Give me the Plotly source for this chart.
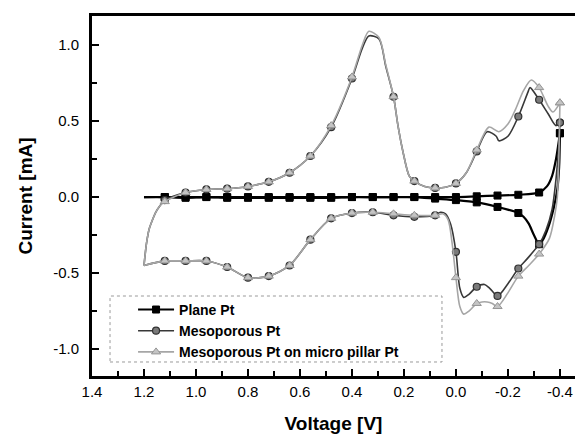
import plotly.graph_objects as go

# ---------------- data (Voltage [V], Current [mA]) ----------------
# Plane Pt
plane_fwd_v = [1.20, 1.12, 1.04, 0.96, 0.88, 0.80, 0.72, 0.64, 0.56, 0.48, 0.40, 0.32, 0.24,
               0.16, 0.08, 0.00, -0.08, -0.16, -0.24, -0.32, -0.35, -0.37, -0.385, -0.40]
plane_fwd_i = [0.00, 0.00, -0.005, 0.00, -0.005, -0.005, -0.005, -0.005, -0.005, -0.005, 0.00, 0.00, 0.00,
               0.00, 0.00, 0.00, 0.005, 0.01, 0.015, 0.03, 0.07, 0.14, 0.25, 0.42]
plane_rev_v = [-0.40, -0.397, -0.39, -0.375, -0.355, -0.335, -0.32, -0.30, -0.28, -0.26, -0.24,
               -0.16, -0.08, 0.00, 0.08, 0.16, 0.24, 0.32, 0.40, 0.48, 0.56, 0.64, 0.72, 0.80,
               0.88, 0.96, 1.04, 1.12, 1.20]
plane_rev_i = [0.42, 0.20, 0.05, -0.08, -0.20, -0.28, -0.31, -0.25, -0.175, -0.13, -0.105,
               -0.065, -0.035, -0.02, -0.01, 0.00, 0.00, 0.00, 0.00, 0.00, 0.00, 0.00, 0.00, 0.00,
               0.00, 0.00, 0.00, 0.00, 0.00]

# Mesoporous Pt
meso_fwd_v = [1.20, 1.19, 1.18, 1.165, 1.155, 1.14, 1.12, 1.04, 0.96, 0.88, 0.80, 0.72, 0.64, 0.56,
              0.48, 0.40, 0.36, 0.335, 0.296, 0.27, 0.24, 0.223, 0.204, 0.18, 0.16, 0.12, 0.08,
              0.04, 0.00, -0.04, -0.08, -0.12, -0.155, -0.165, -0.20, -0.24, -0.277, -0.285,
              -0.32, -0.354, -0.385, -0.40]
meso_fwd_i = [-0.45, -0.30, -0.21, -0.14, -0.10, -0.06, -0.02, 0.03, 0.05, 0.055, 0.07, 0.10, 0.16, 0.27,
              0.46, 0.78, 0.98, 1.06, 1.04, 0.86, 0.66, 0.47, 0.30, 0.14, 0.105, 0.07, 0.06,
              0.065, 0.09, 0.16, 0.30, 0.43, 0.40, 0.37, 0.40, 0.53, 0.69, 0.72,
              0.64, 0.55, 0.47, 0.49]
meso_rev_v = [-0.40, -0.395, -0.385, -0.37, -0.346, -0.32, -0.277, -0.24, -0.20, -0.16, -0.13,
              -0.11, -0.08, -0.05, -0.03, -0.015, 0.00, 0.02, 0.04, 0.06, 0.08, 0.16, 0.24, 0.32,
              0.40, 0.48, 0.56, 0.64, 0.72, 0.80, 0.88, 0.96, 1.04, 1.12, 1.20]
meso_rev_i = [0.49, 0.32, 0.12, -0.08, -0.22, -0.31, -0.40, -0.47, -0.57, -0.65, -0.60,
              -0.575, -0.59, -0.64, -0.66, -0.60, -0.36, -0.18, -0.11, -0.10, -0.12, -0.13, -0.12, -0.10,
              -0.105, -0.14, -0.28, -0.45, -0.52, -0.53, -0.46, -0.42, -0.42, -0.42, -0.45]

# Mesoporous Pt on micro pillar Pt
pillar_fwd_v = [1.20, 1.19, 1.18, 1.165, 1.155, 1.14, 1.12, 1.04, 0.96, 0.88, 0.80, 0.72, 0.64, 0.56,
                0.48, 0.40, 0.36, 0.335, 0.296, 0.27, 0.24, 0.223, 0.204, 0.18, 0.16, 0.12, 0.08,
                0.04, 0.00, -0.04, -0.08, -0.127, -0.165, -0.20, -0.23, -0.26, -0.29, -0.32,
                -0.354, -0.373, -0.40]
pillar_fwd_i = [-0.45, -0.30, -0.21, -0.14, -0.10, -0.06, -0.03, 0.03, 0.05, 0.055, 0.07, 0.10, 0.16, 0.27,
                0.47, 0.79, 1.00, 1.09, 1.05, 0.87, 0.66, 0.47, 0.30, 0.14, 0.105, 0.07, 0.06,
                0.065, 0.09, 0.16, 0.31, 0.46, 0.43, 0.48, 0.58, 0.70, 0.77, 0.72,
                0.60, 0.56, 0.62]
pillar_rev_v = [-0.40, -0.395, -0.39, -0.38, -0.36, -0.32, -0.28, -0.24, -0.20, -0.16, -0.14,
                -0.12, -0.10, -0.08, -0.05, -0.03, -0.015, 0.00, 0.015, 0.03, 0.05, 0.08, 0.16,
                0.24, 0.32, 0.40, 0.48, 0.56, 0.64, 0.72, 0.80, 0.88, 0.96, 1.04, 1.12, 1.20]
pillar_rev_i = [0.62, 0.20, 0.00, -0.12, -0.27, -0.375, -0.45, -0.52, -0.63, -0.72, -0.70,
                -0.69, -0.69, -0.70, -0.75, -0.77, -0.72, -0.53, -0.30, -0.15, -0.11, -0.12, -0.12,
                -0.11, -0.10, -0.105, -0.14, -0.28, -0.45, -0.52, -0.53, -0.46, -0.42, -0.42, -0.42, -0.45]

series_names = ["Plane Pt", "Mesoporous Pt", "Mesoporous Pt on micro pillar Pt"]

x_tick_vals = [1.4, 1.2, 1.0, 0.8, 0.6, 0.4, 0.2, 0.0, -0.2, -0.4]
x_tick_text = ["1.4", "1.2", "1.0", "0.8", "0.6", "0.4", "0.2", "0.0", "-0.2", "-0.4"]
y_tick_vals = [-1.0, -0.5, 0.0, 0.5, 1.0]
y_tick_text = ["-1.0", "-0.5", "0.0", "0.5", "1.0"]

marker_step = 0.08   # markers every 0.08 V from 1.12 V downward
# ------------------------------------------------------------------


def on_grid(v):
    k = (1.20 - v) / marker_step
    return abs(k - round(k)) < 1e-6 and round(k) >= 1


def marker_points(vs, cs):
    xs, ys = [], []
    for v, c in zip(vs, cs):
        if on_grid(v):
            xs.append(v)
            ys.append(c)
    return xs, ys


styles = [
    dict(line=dict(color="#000000", width=2.2),
         marker=dict(symbol="square", size=7, color="#000000", line=dict(color="#000000", width=1))),
    dict(line=dict(color="#383838", width=1.6),
         marker=dict(symbol="circle", size=7, color="#7a7a7a", line=dict(color="#303030", width=1.2))),
    dict(line=dict(color="#a6a6a6", width=1.6),
         marker=dict(symbol="triangle-up", size=8, color="#c4c4c4", line=dict(color="#969696", width=1))),
]

data = [
    (plane_fwd_v, plane_fwd_i, plane_rev_v, plane_rev_i),
    (meso_fwd_v, meso_fwd_i, meso_rev_v, meso_rev_i),
    (pillar_fwd_v, pillar_fwd_i, pillar_rev_v, pillar_rev_i),
]

fig = go.Figure()
for name, st, (fv, fi, rv, ri) in zip(series_names, styles, data):
    for vs, cs in ((fv, fi), (rv, ri)):
        fig.add_trace(go.Scatter(x=vs, y=cs, mode="lines", line=dict(shape="spline", smoothing=0.8, **st["line"]),
                                 showlegend=False, hoverinfo="skip"))
        mx, my = marker_points(vs, cs)
        fig.add_trace(go.Scatter(x=mx, y=my, mode="markers", marker=st["marker"], showlegend=False))
    fig.add_trace(go.Scatter(x=[None], y=[None], mode="lines+markers", name="<b>" + name + "</b>",
                             line=st["line"], marker=st["marker"], showlegend=True))

axis_font = dict(family="Liberation Sans, Arial, sans-serif", size=15, color="#000000")
title_font = dict(family="Liberation Sans, Arial, sans-serif", size=19, color="#000000")

fig.update_layout(
    width=575, height=434,
    margin=dict(l=92, r=0, t=16, b=58, autoexpand=False),
    paper_bgcolor="white", plot_bgcolor="white",
    font=dict(family="Liberation Sans, Arial, sans-serif", color="#000000"),
    xaxis=dict(
        range=[1.4, -0.458], tickmode="array", tickvals=x_tick_vals, ticktext=x_tick_text,
        ticks="inside", ticklen=7, tickwidth=2, tickcolor="#000",
        minor=dict(dtick=0.1, tick0=0, ticks="inside", ticklen=5, tickwidth=2, tickcolor="#000"),
        showline=True, linewidth=3, linecolor="#000", mirror=True,
        showgrid=False, zeroline=False, automargin=False,
        tickfont=axis_font, ticklabelstandoff=0,
        tickprefix="<b>", ticksuffix="</b>",
        title=dict(text="<b>Voltage [V]</b>", font=title_font, standoff=20),
    ),
    yaxis=dict(
        range=[-1.177, 1.191], tickmode="array", tickvals=y_tick_vals, ticktext=y_tick_text,
        ticks="inside", ticklen=7, tickwidth=2, tickcolor="#000",
        minor=dict(dtick=0.25, tick0=0, ticks="inside", ticklen=5, tickwidth=2, tickcolor="#000"),
        showline=True, linewidth=3, linecolor="#000", mirror=False,
        showgrid=False, zeroline=False, automargin=False,
        tickfont=axis_font, ticklabelstandoff=7,
        tickprefix="<b>", ticksuffix="</b>",
        title=dict(text="<b>Current [mA]</b>", font=title_font, standoff=16),
    ),
    legend=dict(x=0.085, y=0.228, xanchor="left", yanchor="top",
                bgcolor="rgba(0,0,0,0)", borderwidth=0,
                font=dict(family="Liberation Sans, Arial, sans-serif", size=14, color="#000"),
                itemwidth=36),
    shapes=[dict(type="rect", xref="paper", yref="paper", x0=0.0373, x1=0.7246, y0=0.0389, y1=0.2222,
                 line=dict(color="#9a9a9a", width=1, dash="dot"))],
)

fig.write_html("out.html", config={"displayModeBar": False},
               post_script="document.body.style.margin='0px';document.body.style.padding='0px';")
